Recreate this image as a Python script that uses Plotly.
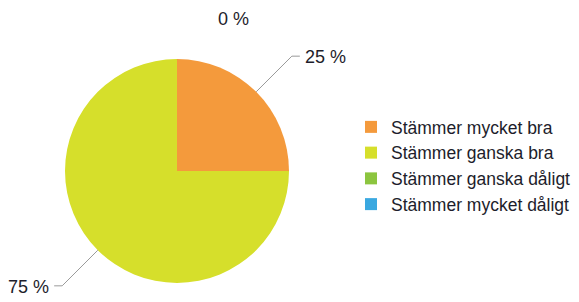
import math
import plotly.graph_objects as go

labels = ["Stämmer mycket bra", "Stämmer ganska bra", "Stämmer ganska dåligt", "Stämmer mycket dåligt"]
values = [25, 75, 0, 0]
colors = ["#F49A3C", "#D6DF2B", "#8CC53F", "#3AA8E0"]

W, H = 579, 302
cx, cy, r = 177, 171, 112

def px(x):
    return x / W

def py(y):
    return 1 - y / H

fig = go.Figure(go.Pie(
    labels=labels, values=values, sort=False, direction="clockwise", rotation=0,
    marker=dict(colors=colors, line=dict(width=0)),
    textinfo="none", hoverinfo="label+percent",
    domain=dict(x=[px(cx - r), px(cx + r)], y=[py(cy + r), py(cy - r)]),
))

total = sum(values)
cum = 0
shapes, annotations = [], []
seen = set()
for v in values:
    pct = round(100 * v / total)
    mid = (cum + v / 2) / total * 2 * math.pi
    cum += v
    s, c = math.sin(mid), math.cos(mid)
    key = round(mid, 3) % round(2 * math.pi, 3)
    if key in seen:
        continue
    seen.add(key)
    if v == 0:
        ex, ey = cx + 39, cy - r * 1.36
        annotations.append(dict(x=px(ex), y=py(ey), xref="paper", yref="paper",
                                text=f"{pct} %", showarrow=False, xanchor="left",
                                yanchor="middle", font=dict(size=18, color="#1d1d2b",
                                family="Liberation Sans, Arial")))
        continue
    x0, y0 = cx + r * s, cy - r * c
    x1, y1 = cx + r * 1.45 * s, cy - r * 1.45 * c
    side = 1 if s >= 0 else -1
    x2 = x1 + side * 8
    shapes.append(dict(type="path", xref="paper", yref="paper",
                       path=f"M {px(x0)} {py(y0)} L {px(x1)} {py(y1)} L {px(x2)} {py(y1)}",
                       line=dict(color="#9a9a9a", width=1)))
    annotations.append(dict(x=px(x2 + side * 3), y=py(y1 + 1), xref="paper", yref="paper",
                            text=f"{pct} %", showarrow=False,
                            xanchor="left" if side > 0 else "right", yanchor="middle",
                            font=dict(size=18, color="#1d1d2b", family="Liberation Sans, Arial")))

fig.update_layout(
    width=W, height=H, margin=dict(l=0, r=0, t=0, b=0),
    paper_bgcolor="white", plot_bgcolor="white",
    font=dict(family="Liberation Sans, Arial", size=18, color="#1d1d2b"),
    showlegend=True,
    legend=dict(x=px(351), y=py(109), xanchor="left", yanchor="top",
                font=dict(size=17.5, color="#1d1d2b"), bgcolor="rgba(0,0,0,0)",
                tracegroupgap=0, itemclick=False),
    shapes=shapes, annotations=annotations,
)

fig.write_html("out.html", config={"displayModeBar": False},
               post_script="document.body.style.margin='0';")
